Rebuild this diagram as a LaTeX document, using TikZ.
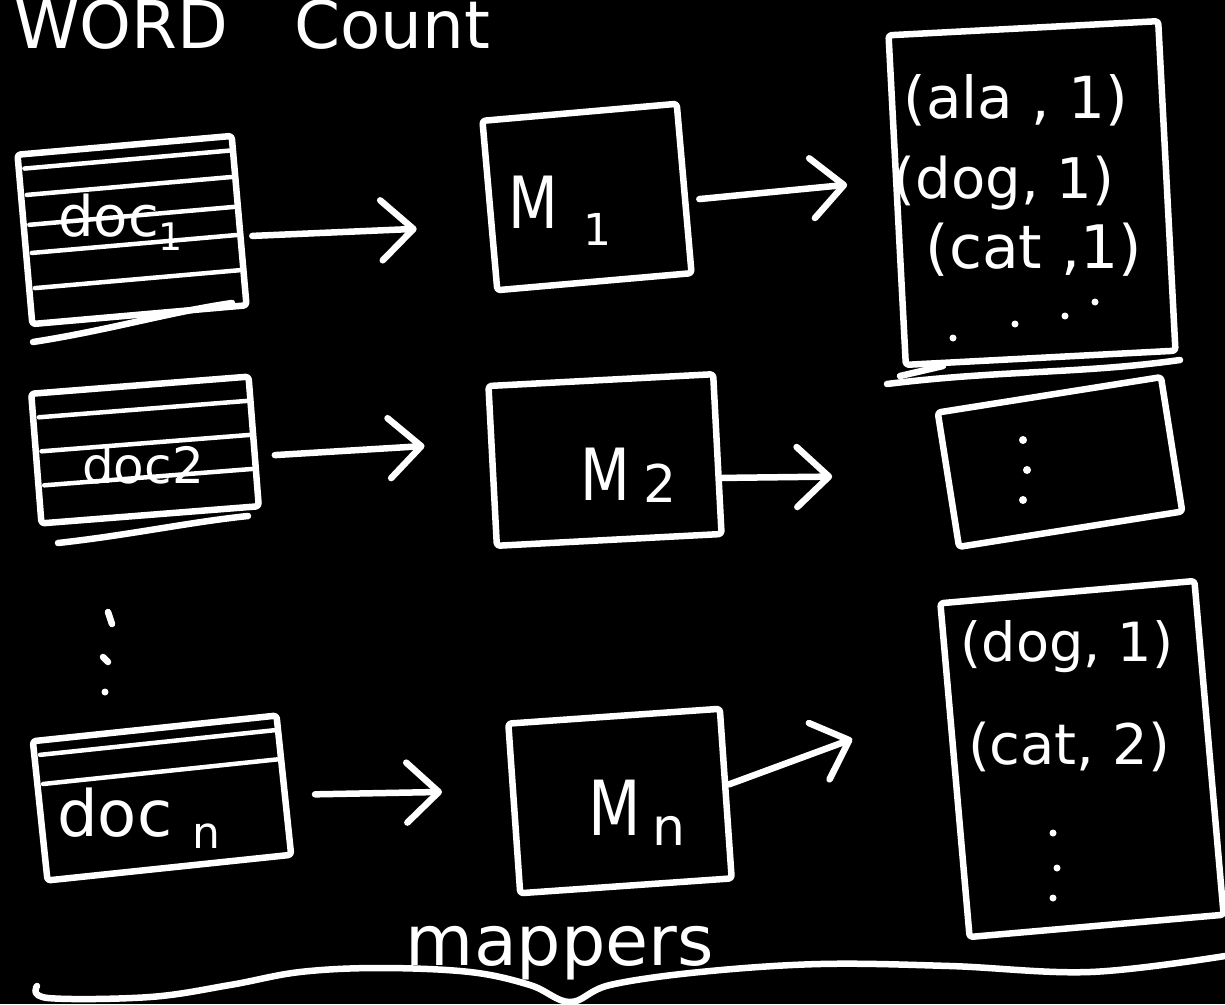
\documentclass[tikz,border=0pt]{standalone}
\usepackage{fontspec}
\setmainfont{DejaVu Sans}
\usetikzlibrary{arrows.meta,calc}

% lowered index written after a word or letter
\newcommand\lowidx[2][0.35em]{\raisebox{-#1}{#2}}
\newcommand\fs[1]{\fontsize{#1}{#1}\selectfont}

\begin{document}
\begin{tikzpicture}[x=1pt,y=-1pt,
  ink/.style={draw=white, line width=6.5pt, line cap=round, line join=round},
  sheet/.style={ink, rectangle, inner sep=0pt, rounded corners=3pt},
  rule/.style={draw=white, line width=4.5pt, line cap=round, shorten <=9pt, shorten >=7pt},
  arr/.style={draw=white, line width=6.5pt, line cap=round, line join=round,
              -{Straight Barb[length=32pt,width=60pt,line cap=round,line join=round]}},
  hand/.style={text=white, inner sep=0pt},
]
\useasboundingbox (0,0) rectangle (1225,1004);
\fill[black] (0,0) rectangle (1225,1004);

% title
\node[hand, font=\fs{66}, anchor=base west] (title) at (14,48) {WORD\hspace{66pt}Count};

% input documents
\node[sheet, minimum width=215pt, minimum height=170pt, rotate=5] (d1) at (132,230) {};
\node[sheet, minimum width=218pt, minimum height=130pt, rotate=4.5] (d2) at (145,450) {};
\node[sheet, minimum width=245pt, minimum height=140pt, rotate=6] (dn) at (162,798) {};

\foreach \f in {0.1,0.25,0.42,0.58,0.78}
  \draw[rule] ($(d1.north west)!\f!(d1.south west)$) -- ($(d1.north east)!\f!(d1.south east)$);
\foreach \f in {0.2,0.45,0.7}
  \draw[rule] ($(d2.north west)!\f!(d2.south west)$) -- ($(d2.north east)!\f!(d2.south east)$);
\foreach \f in {0.12,0.32}
  \draw[rule] ($(dn.north west)!\f!(dn.south west)$) -- ($(dn.north east)!\f!(dn.south east)$);

% page edges under the first two documents
\draw[ink] (33,342) .. controls (110,330) and (170,312) .. (232,303);
\draw[ink] (58,543) .. controls (130,535) and (190,522) .. (248,516);

\node[hand, font=\fs{56}, anchor=base west] (d1t) at (58,236) {doc\lowidx[14pt]{\fs{38}1}};
\node[hand, font=\fs{50}, anchor=base west] (d2t) at (82,483) {doc2};
\node[hand, font=\fs{64}, anchor=base west] (dnt) at (57,836) {doc\hspace{20pt}\lowidx[12pt]{\fs{44}n}};

% vertical ellipsis between the documents
\draw[ink] (108,612) -- (112,624);
\draw[ink] (103,657) -- (108,662);
\fill[white] (105,692) circle (3.5pt);

% mappers
\node[sheet, minimum width=195pt, minimum height=170pt, rotate=5] (m1) at (587,197) {};
\node[sheet, minimum width=225pt, minimum height=160pt, rotate=3] (m2) at (605,460) {};
\node[sheet, minimum width=212pt, minimum height=170pt, rotate=4] (mn) at (620,801) {};

\node[hand, font=\fs{72}, anchor=base west] (m1t) at (508,228) {\scalebox{0.8}[1]{M}\hspace{26pt}\lowidx[17pt]{\fs{44}1}};
\node[hand, font=\fs{72}, anchor=base west] (m2t) at (580,500) {\scalebox{0.8}[1]{M}\hspace{14pt}\lowidx[2pt]{\fs{52}2}};
\node[hand, font=\fs{76}, anchor=base west] (mnt) at (588,835) {\scalebox{0.8}[1]{M}\hspace{12pt}\lowidx[10pt]{\fs{52}n}};

% mapper outputs
\node[sheet, minimum width=270pt, minimum height=330pt, rotate=3] (o1) at (1032,193) {};
\node[sheet, minimum width=226pt, minimum height=136pt, rotate=9] (o2) at (1060,462) {};
\node[sheet, minimum width=255pt, minimum height=335pt, rotate=5] (on) at (1082,759) {};

\node[hand, font=\fs{58}] (o1a) at (1016,100) {(ala , 1)};
\node[hand, font=\fs{56}] (o1b) at (1004,183) {(dog, 1)};
\node[hand, font=\fs{60}] (o1c) at (1034,250) {(cat ,1)};
\foreach \p in {(1095,302),(1065,316),(1015,324),(953,338)}
  \fill[white] \p circle (3.5pt);
\draw[ink] (887,384) .. controls (1000,370) and (1080,374) .. (1180,360);
\draw[ink] (900,376) -- (943,366);

\foreach \p in {(1023,440),(1027,470),(1023,500)}
  \fill[white] \p circle (4pt);

\node[hand, font=\fs{54}] (ona) at (1067,647) {(dog, 1)};
\node[hand, font=\fs{56}] (onb) at (1069,747) {(cat, 2)};
\foreach \p in {(1053,833),(1057,868),(1053,898)}
  \fill[white] \p circle (3.5pt);

% flow: documents -> mappers -> outputs
\draw[arr, shorten <=10pt, shorten >=70pt] ([yshift=-16pt]d1.east) -- ([yshift=-20pt]m1.west);
\draw[arr, shorten <=18pt, shorten >=65pt] ([yshift=-15pt]d2.east) -- ([yshift=24pt]m2.west);
\draw[arr, shorten <=28pt, shorten >=69pt] ([yshift=-10pt]dn.east) -- ([yshift=18pt]mn.west);
\draw[arr, shorten <=12pt, shorten >=47pt] ([yshift=-12pt]m1.east) -- ([yshift=20pt]o1.west);
\draw[arr, shorten <=2pt, shorten >=113pt] ([yshift=-24pt]m2.east) -- ([yshift=5pt]o2.west);
\draw[arr, shorten <=0pt, shorten >=106pt] ([yshift=9pt]mn.east) -- ([yshift=68pt]on.west);

% brace under the mappers
\draw[ink] plot[smooth, tension=0.6] coordinates {(37,986) (48,998) (150,997) (230,985) (300,972)
  (380,968) (470,972) (530,985) (570,1002) (610,985) (700,972) (820,964) (950,966) (1090,972) (1225,956)};
\node[hand, font=\fs{70}, anchor=base] (lab) at (560,965) {mappers};
\end{tikzpicture}
\end{document}
